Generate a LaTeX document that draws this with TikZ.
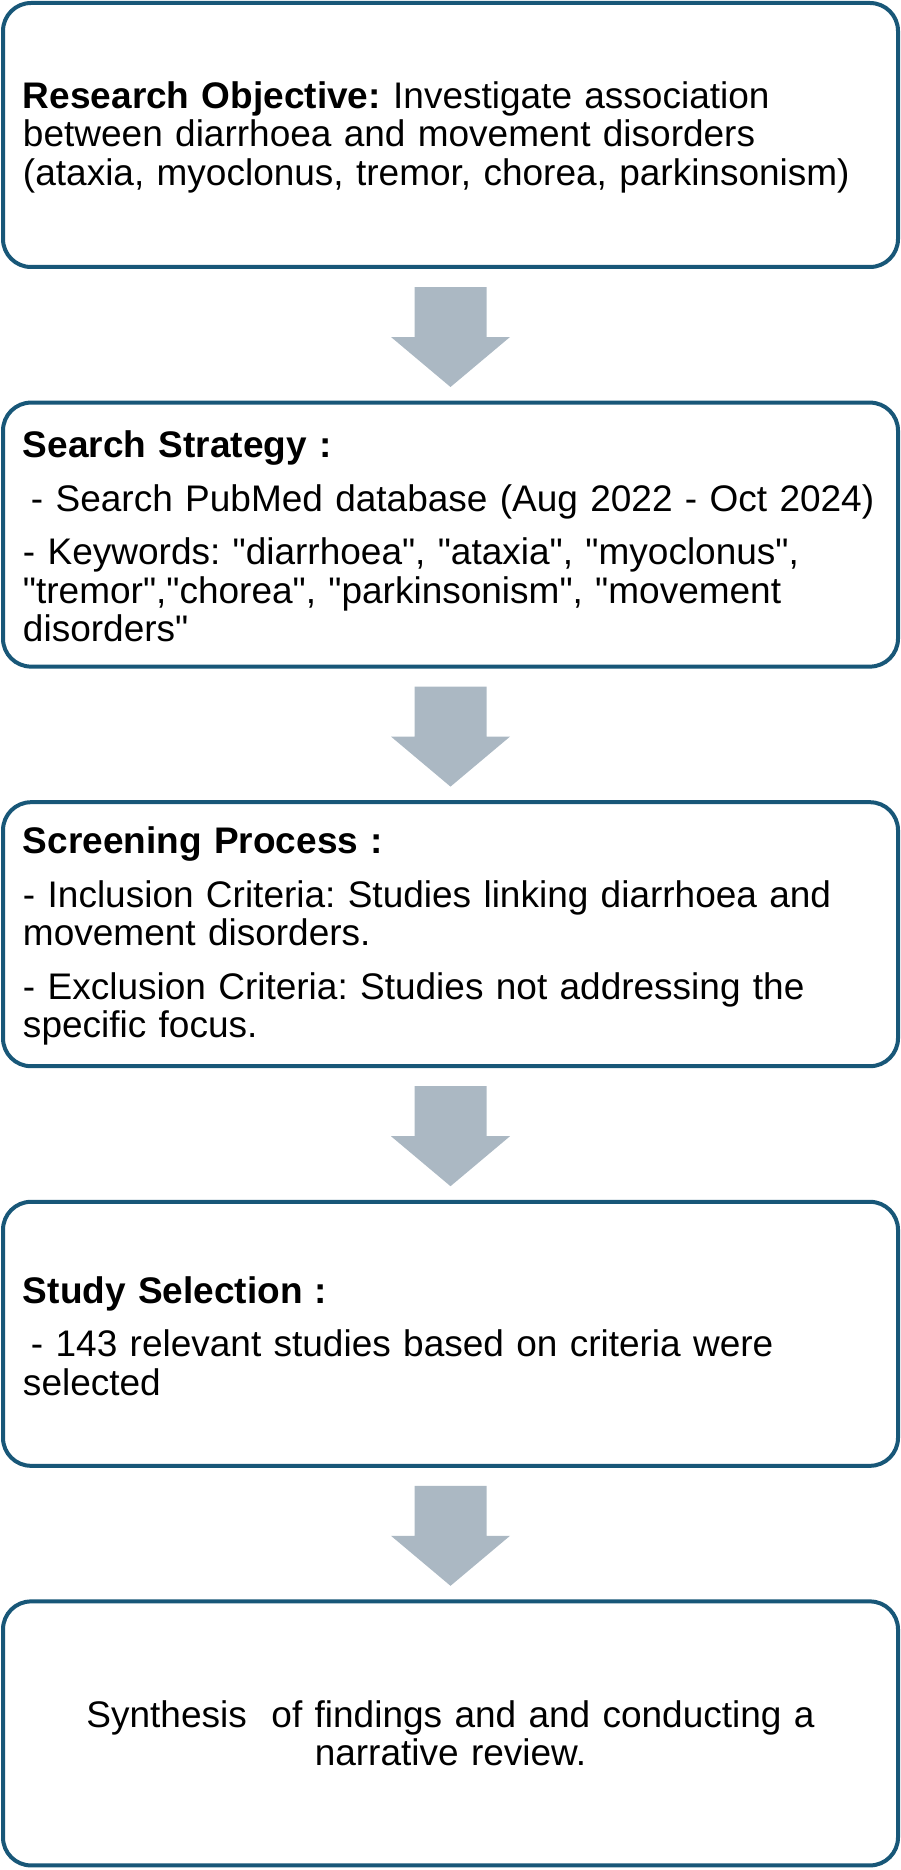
\documentclass[tikz,border=0pt]{standalone}
\usepackage{fontspec}
\setmainfont{Liberation Sans}
\newfontfamily\qfont{Liberation Sans}
\usetikzlibrary{calc}
\definecolor{boxline}{RGB}{24,87,120}
\definecolor{arrowfill}{RGB}{171,184,195}
\newcommand{\q}{{\qfont"}}
\newcommand{\blockarrow}[1]{%
  \fill[arrowfill] ($(#1.south)+(-36,-18)$) -- ++(72,0) -- ++(0,-50) -- ++(23.5,0)
    -- ++(-59.5,-50) -- ++(-59.5,50) -- ++(23.5,0) -- cycle;}
\begin{document}
\begin{tikzpicture}[x=1pt,y=1pt,
  stepbox/.style={draw=boxline, line width=4pt, rounded corners=28pt, fill=white,
    minimum width=895pt, minimum height=264pt, inner sep=0pt},
  steptext/.style={inner sep=0pt, text width=855pt, align=left,
    font=\fontsize{37}{38.5}\selectfont\frenchspacing}]
\useasboundingbox (0,0) rectangle (901,-1870);
\node[stepbox] (b1) at (450.5,-135) {};
\node[stepbox] (b2) at (450.5,-534.6) {};
\node[stepbox] (b3) at (450.5,-934.2) {};
\node[stepbox] (b4) at (450.5,-1333.8) {};
\node[stepbox] (b5) at (450.5,-1733.4) {};
\node[steptext] (t1) at ([yshift=-2pt]b1.center) {\textbf{Research Objective:} Investigate association\\
between diarrhoea and movement disorders\\
(ataxia, myoclonus, tremor, chorea, parkinsonism)};
\node[steptext] (t2) at ([yshift=-2pt]b2.center) {\textbf{Search Strategy :}\\[15pt]
\hspace*{8pt}- Search PubMed database (Aug 2022 - Oct 2024)\\[15pt]
- Keywords: \q diarrhoea\q, \q ataxia\q, \q myoclonus\q,\\
\q tremor\q,\q chorea\q, \q parkinsonism\q, \q movement\\
disorders\q};
\node[steptext] (t3) at ([yshift=-2pt]b3.center) {\textbf{Screening Process :}\\[15pt]
- Inclusion Criteria: Studies linking diarrhoea and\\
movement disorders.\\[15pt]
- Exclusion Criteria: Studies not addressing the\\
specific focus.};
\node[steptext] (t4) at ([yshift=-2pt]b4.center) {\textbf{Study Selection :}\\[15pt]
\hspace*{8pt}- 143 relevant studies based on criteria were\\
selected};
\node[steptext, align=center] (t5) at (b5.center) {Synthesis\ \ of findings and and conducting a\\
narrative review.};
\blockarrow{b1}
\blockarrow{b2}
\blockarrow{b3}
\blockarrow{b4}
\end{tikzpicture}
\end{document}
